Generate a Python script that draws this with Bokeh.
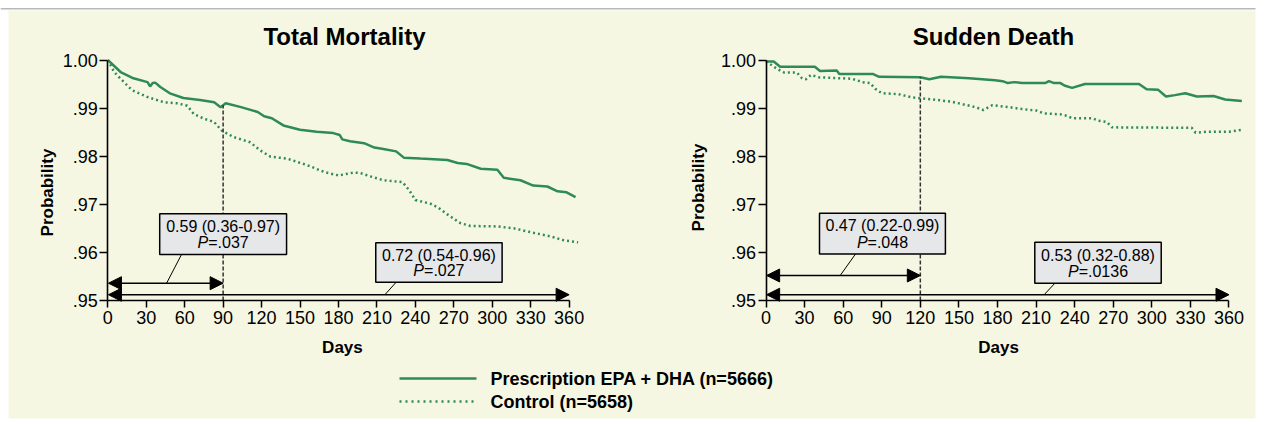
import math
import numpy as np
from bokeh.plotting import figure
from bokeh.models import Range1d, Arrow, NormalHead, FixedTicker, LinearAxis
from bokeh.core.properties import value
from bokeh.embed import file_html
from bokeh.resources import INLINE

# ---------------- data ----------------
x_ticks = [0, 30, 60, 90, 120, 150, 180, 210, 240, 270, 300, 330, 360]
y_ticks = [0.95, 0.96, 0.97, 0.98, 0.99, 1.00]
y_tick_labels = [".95", ".96", ".97", ".98", ".99", "1.00"]

# Total mortality
tm_epa_days = [0, 10, 20, 31, 33, 35, 37, 41, 49, 59, 72, 83, 88, 92, 104, 117, 122, 128, 137, 150,
               163, 176, 181, 183, 189, 200, 208, 215, 225, 231, 244, 265, 273, 280, 291, 304, 309,
               322, 332, 343, 351, 358, 365]
tm_epa_prob = [1.0000, .9975, .9962, .9954, .9945, .9952, .9953, .9944, .9930, .9921, .9917, .9912,
               .9902, .9910, .9902, .9892, .9883, .9879, .9864, .9855, .9851, .9848, .9844, .9835,
               .9831, .9827, .9818, .9815, .9810, .9797, .9795, .9792, .9786, .9784, .9774, .9772,
               .9755, .9750, .9739, .9737, .9727, .9725, .9715]
tm_ctl_days = [0, 5, 10, 19, 31, 44, 54, 62, 67, 75, 83, 89, 98, 111, 119, 127, 140, 156, 169, 180,
               184, 192, 197, 205, 215, 230, 235, 240, 252, 258, 265, 275, 283, 304, 317, 330, 346,
               356, 367]
tm_ctl_prob = [1.0000, .9975, .9961, .9937, .9923, .9912, .9910, .9905, .9888, .9878, .9871, .9853,
               .9840, .9829, .9812, .9799, .9795, .9781, .9767, .9760, .9762, .9766, .9765, .9758,
               .9750, .9746, .9730, .9709, .9701, .9693, .9679, .9661, .9655, .9654, .9650, .9642,
               .9633, .9625, .9621]
tm_landmark_day = 90
tm_hr_text = ["0.59 (0.36-0.97)", "0.72 (0.54-0.96)"]
tm_p_text = ["=.037", "=.027"]

# Sudden death
sd_epa_days = [0, 6, 11, 38, 42, 55, 57, 83, 88, 120, 127, 136, 158, 178, 184, 188, 193, 199, 217,
               220, 224, 229, 232, 238, 248, 290, 296, 305, 311, 318, 326, 335, 348, 357, 370]
sd_epa_prob = [.9997, .9997, .9986, .9986, .9977, .9978, .9971, .9971, .9965, .9964, .9960, .9965,
               .9962, .9958, .9956, .9952, .9954, .9952, .9952, .9956, .9952, .9952, .9947, .9942,
               .9950, .9950, .9939, .9938, .9924, .9927, .9931, .9924, .9925, .9918, .9915]
sd_ctl_days = [0, 9, 14, 24, 28, 31, 35, 41, 67, 75, 81, 85, 90, 103, 114, 133, 145, 153, 163, 169,
               176, 189, 199, 210, 216, 229, 234, 238, 254, 258, 265, 269, 331, 334, 344, 360, 370]
sd_ctl_prob = [.9997, .9981, .9974, .9974, .9962, .9960, .9969, .9964, .9961, .9954, .9952, .9940,
               .9931, .9929, .9922, .9917, .9913, .9908, .9902, .9896, .9906, .9902, .9898, .9895,
               .9889, .9887, .9884, .9879, .9879, .9874, .9871, .9860, .9859, .9849, .9851, .9851,
               .9855]
sd_landmark_day = 120
sd_hr_text = ["0.47 (0.22-0.99)", "0.53 (0.32-0.88)"]
sd_p_text = ["=.048", "=.0136"]

legend_labels = ["Prescription EPA + DHA (n=5666)", "Control (n=5658)"]

# ---------------- style ----------------
GREEN = "#2e8b57"
CREAM = "#f6f7e3"
BOXFILL = "#e6e7e9"
FONT = "Liberation Sans"
W, H = 1266, 424
AW = {'P': .667, '=': .584, '.': .278}
for _d in "0123456789":
    AW[_d] = .556


def p_offset(rest, size=16):
    total = (AW['P'] + sum(AW[c] for c in rest)) * size
    return -total / 2 + AW['P'] * size


# one canvas; panel scales: px = x0 + day*kx ; py = 59.5 + (1-prob)*4810
PY0, KY = 59.5, 4810.0
p = figure(width=W, height=H, output_backend="svg", toolbar_location=None,
           x_range=Range1d(0, W), y_range=Range1d(H, 0), min_border=0,
           x_axis_location=None, y_axis_location=None,
           background_fill_color="white", border_fill_color="white")
p.grid.visible = False
p.outline_line_color = None
p.extra_x_ranges = {"tm": Range1d(-107.3 / 1.2815, (W - 107.3) / 1.2815),
                    "sd": Range1d(-765.5 / 1.2861, (W - 765.5) / 1.2861)}
p.extra_y_ranges = {"prob": Range1d(1 - (H - PY0) / KY, 1 + PY0 / KY)}

# panel background and top rule
p.quad(left=[8], right=[1255], top=[10], bottom=[418], fill_color=CREAM, line_color=None)
p.segment(x0=[0], y0=[8.3], x1=[1255], y1=[8.3], line_color="#b8b8b8", line_width=1.6)


def panel(rn, title, e_d, e_p, c_d, c_p, landmark, hr_text, p_text, short_y, box1, box2,
          conn1, conn2, title_x, days_x, prob_x, prob_y):
    kw = dict(x_range_name=rn, y_range_name="prob")
    xa = LinearAxis(fixed_location=0.95, ticker=FixedTicker(ticks=x_ticks), bounds=(0, 360), **kw)
    ya = LinearAxis(fixed_location=0, ticker=FixedTicker(ticks=y_ticks), bounds=(0.95, 1.0), **kw)
    ya.major_label_overrides = {t: s for t, s in zip(y_ticks, y_tick_labels)}
    for ax in (xa, ya):
        ax.axis_line_width = 1.6
        ax.axis_line_color = "black"
        ax.major_tick_line_width = 1.5
        ax.major_tick_line_color = "black"
        ax.major_tick_in = 0
        ax.minor_tick_line_color = None
        ax.major_label_text_font = FONT
        ax.major_label_text_font_size = "18px"
        ax.major_label_text_color = "black"
    xa.major_tick_out = 7
    xa.major_label_standoff = 3
    ya.major_tick_out = 8
    ya.major_label_standoff = 2
    p.add_layout(xa, "below")
    p.add_layout(ya, "left")

    # curves
    p.line(c_d, c_p, line_color=GREEN, line_width=2.5, line_dash="2 3", **kw)
    p.line(e_d, e_p, line_color=GREEN, line_width=2.5, **kw)

    # landmark dashed line
    top = float(np.interp(landmark, e_d, e_p))
    p.segment(x0=[landmark], y0=[0.95], x1=[landmark], y1=[top], line_color="#333333",
              line_width=1.5, line_dash="4 2", **kw)

    # arrows
    for (xs, xe, yy) in [(0.5, landmark, short_y), (0.5, 360, 0.9512)]:
        p.add_layout(Arrow(start=NormalHead(size=13, fill_color="black", line_color="black"),
                           end=NormalHead(size=13, fill_color="black", line_color="black"),
                           x_start=xs, y_start=yy, x_end=xe, y_end=yy,
                           line_color="black", line_width=1.5, **kw))
    for c in (conn1, conn2):
        p.segment(x0=[c[0]], y0=[c[1]], x1=[c[2]], y1=[c[3]], line_color="black",
                  line_width=1, **kw)

    # boxes and texts
    for b, hr, pt in ((box1, hr_text[0], p_text[0]), (box2, hr_text[1], p_text[1])):
        l, r, bt, tp = b
        p.quad(left=[l], right=[r], bottom=[bt], top=[tp], fill_color=BOXFILL,
               line_color="black", line_width=1.5, **kw)
        cx = (l + r) / 2
        h = tp - bt
        y1 = tp - h * 0.31
        y2 = tp - h * 0.71
        p.text(x=[cx], y=[y1], text=[hr], text_font=value(FONT), text_font_size="16px",
               text_align="center", text_baseline="middle", text_color="black", **kw)
        off = p_offset(pt)
        p.text(x=[cx], y=[y2], text=["P"], text_font=value(FONT), text_font_size="16px",
               text_font_style="italic", text_align="right", text_baseline="middle",
               x_offset=off, text_color="black", **kw)
        p.text(x=[cx], y=[y2], text=[pt], text_font=value(FONT), text_font_size="16px",
               text_align="left", text_baseline="middle", x_offset=off, text_color="black", **kw)

    # title and axis titles
    p.text(x=[title_x], y=[1.004886], text=[title], text_font=value(FONT), text_font_size="24px",
           text_font_style="bold", text_align="center", text_baseline="middle",
           text_color="black", **kw)
    p.text(x=[days_x], y=[0.940229], text=["Days"], text_font=value(FONT), text_font_size="17px",
           text_font_style="bold", text_align="center", text_baseline="middle",
           text_color="black", **kw)
    p.text(x=[prob_x], y=[prob_y], text=["Probability"], text_font=value(FONT),
           text_font_size="17px", text_font_style="bold", angle=math.pi / 2,
           text_align="center", text_baseline="middle", text_color="black", **kw)


panel("tm", "Total Mortality", tm_epa_days, tm_epa_prob, tm_ctl_days, tm_ctl_prob,
      tm_landmark_day, tm_hr_text, tm_p_text, short_y=0.9536,
      box1=(40.5, 139.5, 0.95956, 0.96802), box2=(209.1, 307.7, 0.95379, 0.9620),
      conn1=(57.5, 0.95956, 45.9, 0.9536), conn2=(225, 0.95379, 216.2, 0.9512),
      title_x=184.7, days_x=183.1, prob_x=-47.4, prob_y=0.97245)

panel("sd", "Sudden Death", sd_epa_days, sd_epa_prob, sd_ctl_days, sd_ctl_prob,
      sd_landmark_day, sd_hr_text, sd_p_text, short_y=0.9552,
      box1=(41.6, 139.5, 0.95967, 0.96813), box2=(209.0, 307.3, 0.95358, 0.9621),
      conn1=(69.6, 0.95967, 57.7, 0.9552), conn2=(224.6, 0.95358, 216.3, 0.9512),
      title_x=176.9, days_x=180.8, prob_x=-52.5, prob_y=0.97349)

# legend (pixel layout in the main range)
p.line([399, 476], [378, 378], line_color=GREEN, line_width=2.5)
p.line([399, 476], [401, 401], line_color=GREEN, line_width=2.5, line_dash="2 4")
p.text(x=[490, 490], y=[378, 401], text=legend_labels, text_font=value(FONT),
       text_font_size="18px", text_font_style="bold", text_align="left",
       text_baseline="middle", text_color="black")

open("out.html", "w").write(file_html(p, INLINE))
